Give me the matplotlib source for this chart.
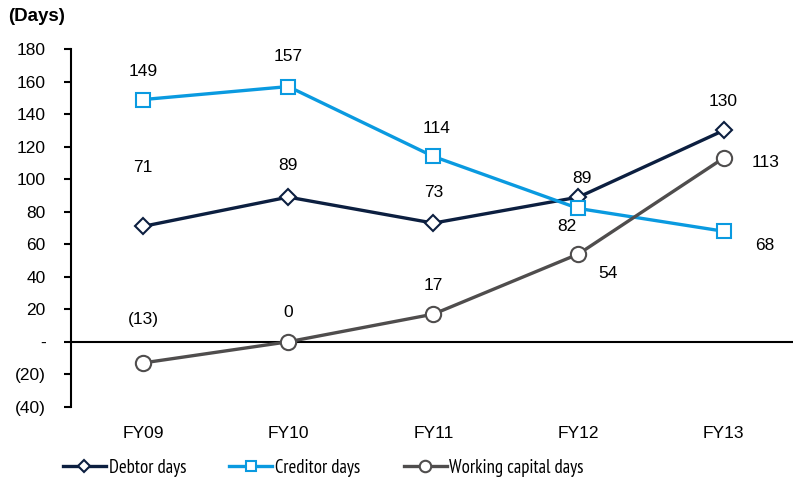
import matplotlib.pyplot as plt
from matplotlib.ticker import FixedLocator, FuncFormatter

plt.rcParams['font.family'] = ['Liberation Sans', 'DejaVu Sans']

years = ['FY09', 'FY10', 'FY11', 'FY12', 'FY13']
debtor_days = [71, 89, 73, 89, 130]
creditor_days = [149, 157, 114, 82, 68]
wc_days = [-13, 0, 17, 54, 113]

# label offsets in pixels (dx, dy) per point
debtor_off = [(0, 59), (0, 32), (0, 31), (3, 19), (0, 29)]
creditor_off = [(0, 28), (0, 30), (3, 28), (-12, -18), (41, -14)]
wc_off = [(0, 43), (0, 29), (0, 29), (29, -20), (42, -4)]

navy = '#0c1f40'
blue = '#0a9ae0'
grey = '#4f4d4d'

fig = plt.figure(figsize=(7.93, 4.82), dpi=100)
ax = fig.add_axes([0.089, 0.156, 0.915, 0.742])

x = list(range(len(years)))
ax.plot(x, debtor_days, color=navy, lw=2.4, marker='D', ms=8.5, mfc='white',
        mec=navy, mew=1.5, label='Debtor days', zorder=3)
ax.plot(x, creditor_days, color=blue, lw=2.4, marker='s', ms=9.5, mfc='white',
        mec=blue, mew=1.5, label='Creditor days', zorder=3)
ax.plot(x, wc_days, color=grey, lw=2.4, marker='o', ms=11, mfc='white',
        mec=grey, mew=1.5, label='Working capital days', zorder=3)


def fmt(v):
    return '(%d)' % abs(v) if v < 0 else '%d' % v


for vals, offs in [(debtor_days, debtor_off), (creditor_days, creditor_off), (wc_days, wc_off)]:
    for i, (v, o) in enumerate(zip(vals, offs)):
        ax.annotate(fmt(v), (i, v), xytext=o, textcoords='offset pixels',
                    ha='center', va='center', fontsize=12.5, color='black', zorder=4)

ax.set_xlim(-0.5, 4.5)
ax.set_ylim(-40, 180)
ax.yaxis.set_major_locator(FixedLocator(range(-40, 181, 20)))
ax.yaxis.set_major_formatter(FuncFormatter(lambda v, p: '-' if v == 0 else fmt(v)))
ax.set_xticks(x)
ax.set_xticklabels(years)
ax.tick_params(axis='x', length=0, pad=14, labelsize=12.5)
ax.tick_params(axis='y', length=5, width=1.5, direction='out', labelsize=12.5, pad=13)

for s in ['top', 'right', 'bottom']:
    ax.spines[s].set_visible(False)
ax.spines['left'].set_linewidth(1.5)
ax.axhline(0, color='black', lw=1.5, zorder=2)

fig.text(0.010, 0.965, '(Days)', fontsize=13.5, fontweight='bold', va='center')

leg = fig.legend(loc='center left', bbox_to_anchor=(0.079, 0.029), ncol=3, frameon=False,
                 prop={'family': ['PT Sans Narrow', 'Liberation Sans'], 'size': 13.5},
                 handlelength=2.3, handletextpad=0.15, columnspacing=2.3,
                 markerscale=0.75, borderaxespad=0, borderpad=0)

fig.savefig('out.png', dpi=100)
